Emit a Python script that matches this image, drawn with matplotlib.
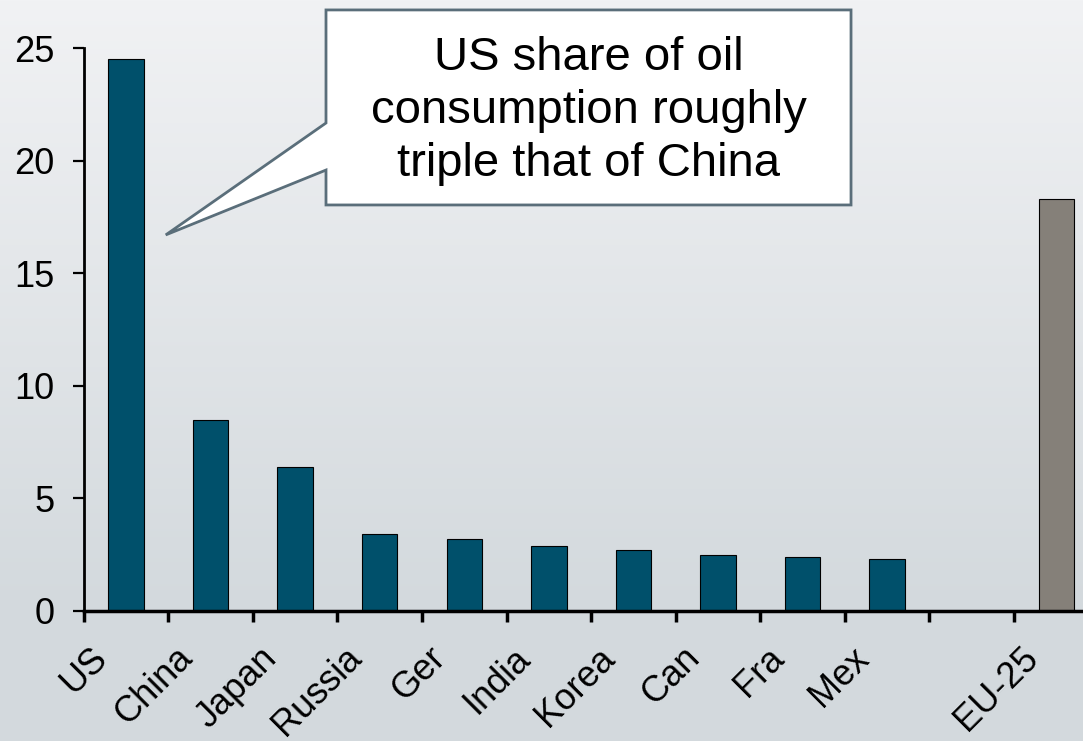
import numpy as np
import matplotlib
matplotlib.use("Agg")
import matplotlib.pyplot as plt
from matplotlib.patches import Polygon

plt.rcParams['font.family'] = ['Liberation Sans', 'DejaVu Sans']

countries = ["US", "China", "Japan", "Russia", "Ger", "India", "Korea",
             "Can", "Fra", "Mex", "", "EU-25"]
share = [24.5, 8.5, 6.4, 3.4, 3.2, 2.9, 2.7, 2.5, 2.4, 2.3, 0, 18.3]
bar_colors = ["#00506b"] * 10 + ["none", "#858079"]
note = "US share of oil\nconsumption roughly\ntriple that of China"

fig = plt.figure(figsize=(10.83, 7.41), dpi=100)

# background gradient
bg = fig.add_axes([0, 0, 1, 1], zorder=-1)
top = np.array([241, 242, 244]) / 255
bot = np.array([211, 217, 221]) / 255
t = np.clip(np.linspace(0, 1, 741) / (611 / 741), 0, 1)[:, None]
grad = top * (1 - t) + bot * t
bg.imshow(grad[:, None, :], aspect="auto", extent=[0, 1, 0, 1])
bg.axis("off")

ax = fig.add_axes([83.7 / 1083, 130 / 741, 1 - 83.7 / 1083, 563 / 741])
ax.set_facecolor("none")

x = np.arange(len(countries))
for xi, v, c in zip(x, share, bar_colors):
    if v > 0:
        ax.bar(xi, v, width=0.42, color=c, edgecolor="black", linewidth=0.8, zorder=2)

ax.set_xlim(-0.5, 11.316)
ax.set_ylim(0, 25)
ax.set_yticks([0, 5, 10, 15, 20, 25])
ax.tick_params(axis="y", labelsize=26, length=8, width=1.6, pad=13)

ax.set_xticks(np.arange(-0.5, 11.5, 1))
ax.set_xticklabels([])
ax.tick_params(axis="x", which="major", length=8, width=2.5, direction="out")
ax.set_xticks(x - 0.28, minor=True)
ax.set_xticklabels(countries, minor=True, rotation=45, rotation_mode="anchor",
                   ha="right", va="center", fontsize=26)
ax.tick_params(axis="x", which="minor", length=0, pad=30)

for s in ["top", "right"]:
    ax.spines[s].set_visible(False)
ax.spines["left"].set_linewidth(2)
ax.spines["bottom"].set_linewidth(2.5)

# callout
bx0, bx1, by0, by1 = 2.365, 8.573, 18.03, 26.69
tip = (0.47, 16.7)
verts = [(bx0, by1), (bx1, by1), (bx1, by0), (bx0, by0), (bx0, 19.58), tip, (bx0, 21.67)]
ax.add_patch(Polygon(verts, closed=True, facecolor="white", edgecolor="#5a6e7a",
                     linewidth=2, clip_on=False, zorder=5))
ax.text((bx0 + bx1) / 2, 22.2, note, ha="center", va="center", fontsize=34,
        linespacing=1.27, zorder=6, clip_on=False)

fig.savefig("out.png", dpi=100)
